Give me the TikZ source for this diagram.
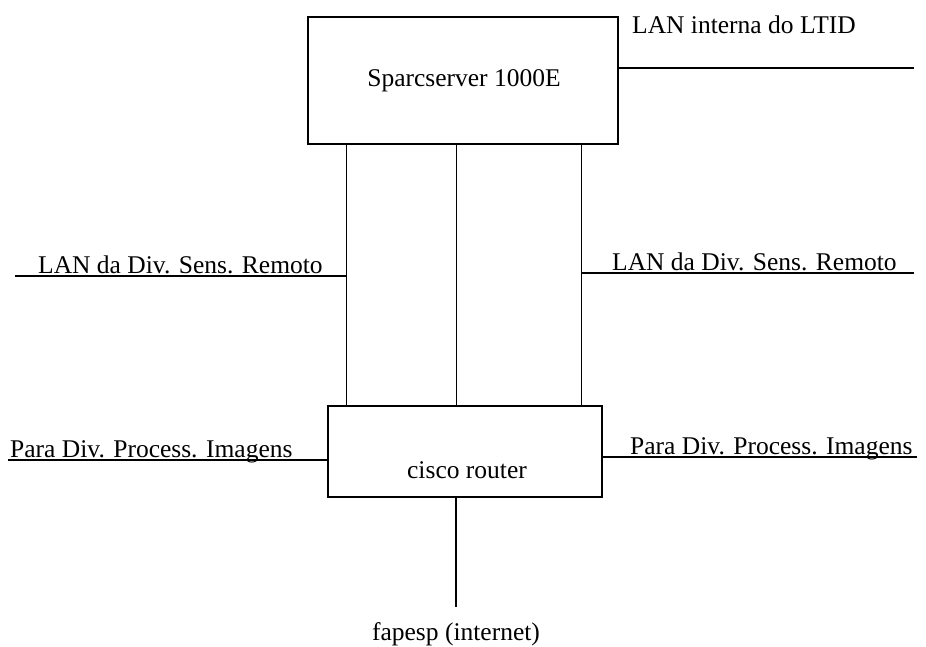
\documentclass[tikz,border=0pt]{standalone}
\usepackage{fontspec}
\setmainfont{Liberation Serif}
\usetikzlibrary{positioning,calc}
\tikzset{
  caixa/.style={draw,line width=1.6pt,inner sep=0pt},
  rede/.style={line width=1.6pt},
  liga/.style={line width=1pt},
  txt/.style={font=\fontsize{25.5}{30}\selectfont,inner sep=0pt},
}

\begin{document}
\begin{tikzpicture}[x=1pt,y=-1pt]
  \useasboundingbox (0,0) rectangle (926,647);
  % equipamentos
  \node[caixa,minimum width=310pt,minimum height=127pt] (srv) at (463,80.5) {};
  \node[txt,anchor=base] (srvtxt) at (464,87) {Sparcserver 1000E};
  \node[caixa,minimum width=274pt,minimum height=91pt] (rtr) at (465,451.5) {};
  \node[txt,anchor=base] (rtrtxt) at (467,478) {cisco router};
  % ligacoes servidor -> router
  \foreach \x/\n in {346/a,456/b,581/c} {
    \coordinate (s\n) at (\x,144);
    \coordinate (r\n) at (\x,406);
    \draw[liga] (s\n) -- (r\n);
  }
  % LAN interna
  \coordinate (lti) at (914,68);
  \draw[rede] (srv.east |- lti) -- (lti);
  \node[txt,anchor=base west] (ltitxt) at (632,34) {LAN interna do LTID};
  % LAN da divisao (esq. e dir.)
  \coordinate (dsr1) at (15,276);
  \coordinate (dsr2) at (914,273);
  \draw[rede] (dsr1) -- (sa |- dsr1);
  \draw[rede] (sc |- dsr2) -- (dsr2);
  \node[txt,anchor=base west] (dsr1txt) at (38,273) {LAN da Div. Sens. Remoto};
  \node[txt,anchor=base west] (dsr2txt) at (612,270) {LAN da Div. Sens. Remoto};
  % processamento de imagens
  \coordinate (dpi1) at (8,460);
  \coordinate (dpi2) at (917,457);
  \draw[rede] (dpi1) -- (rtr.west |- dpi1);
  \draw[rede] (rtr.east |- dpi2) -- (dpi2);
  \node[txt,anchor=base west] (dpi1txt) at (10,457) {Para Div. Process. Imagens};
  \node[txt,anchor=base west] (dpi2txt) at (630,454) {Para Div. Process. Imagens};
  % saida internet
  \coordinate (net) at (456,607);
  \draw[rede] (rtr.south -| net) -- (net);
  \node[txt,anchor=base] (nettxt) at (456,640) {fapesp (internet)};
\end{tikzpicture}
\end{document}
